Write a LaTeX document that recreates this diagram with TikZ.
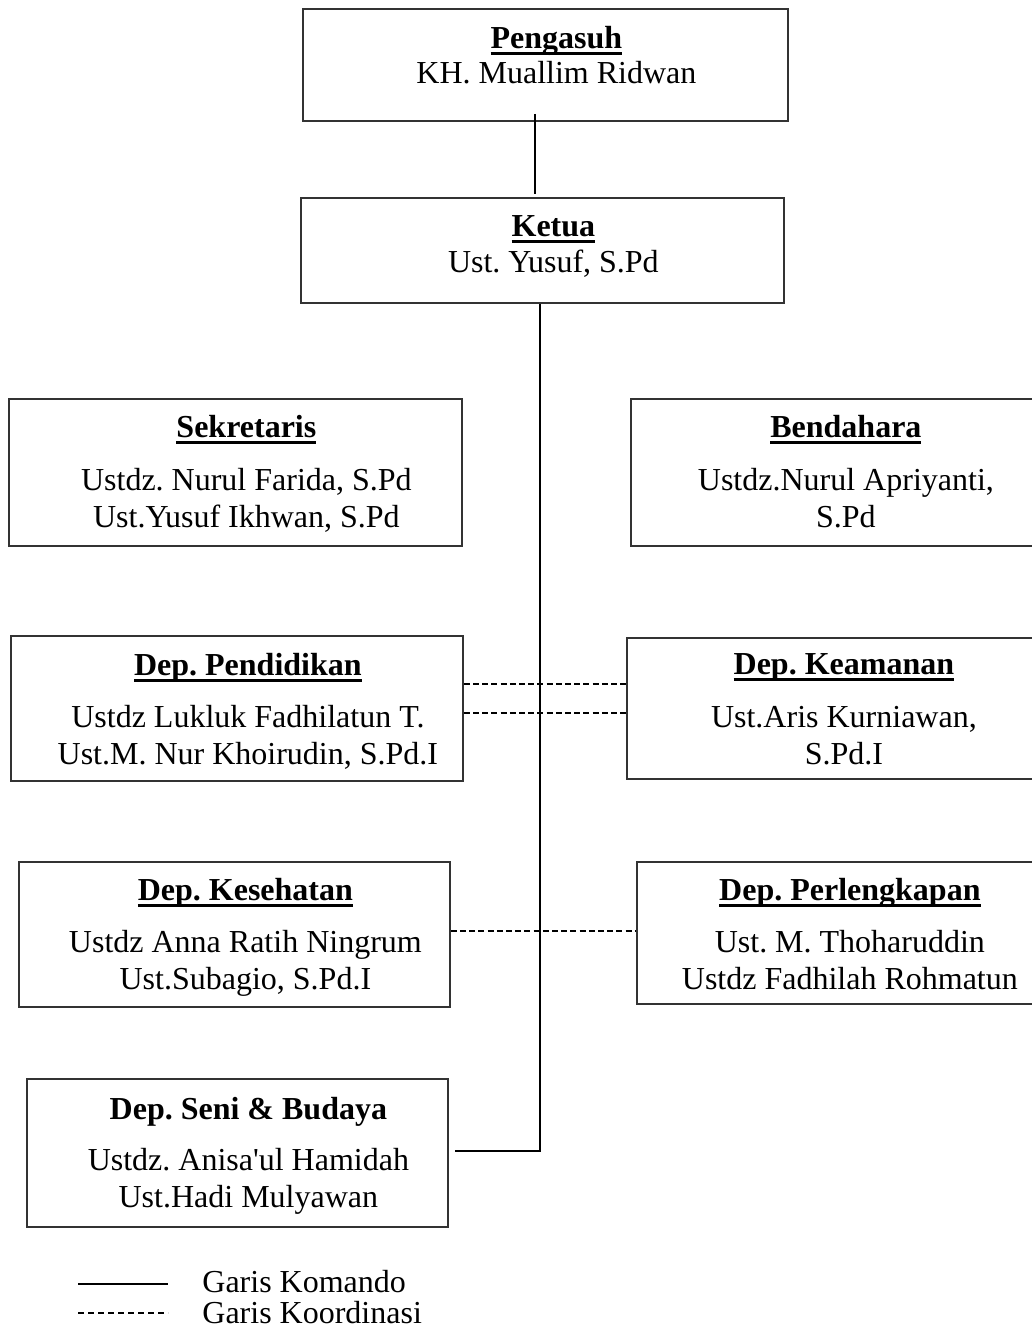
\documentclass[tikz,border=0pt]{standalone}
\usepackage{fontspec}
\setmainfont{Liberation Serif}
\usetikzlibrary{calc}
\frenchspacing

% bold title with a heavy underline
\newcommand{\judul}[1]{\setbox0\hbox{\bfseries #1}\rlap{\rule[-3.4pt]{\wd0}{1.7pt}}\box0}

\tikzset{
  kotak/.style={rectangle, draw=black!80, line width=0.9pt, inner sep=0pt, anchor=north west},
  teks/.style={anchor=north, align=center, inner sep=0pt, font=\fontsize{16pt}{18.5pt}\selectfont},
  komando/.style={line width=0.75pt},
  koordinasi/.style={line width=0.75pt, dash pattern=on 3pt off 1.6pt}
}

\begin{document}
\begin{tikzpicture}[x=0.5pt, y=-0.5pt]
            \useasboundingbox (0,0) rectangle (1032,1333);

            % Boxes
            \node (pengasuh) [kotak, minimum width=242.5pt, minimum height=56pt] at (302,8) {};
            \node (ketua) [kotak, minimum width=241.5pt, minimum height=52.5pt] at (300,197) {};
            \node (sekretaris) [kotak, minimum width=226.5pt, minimum height=73.5pt] at (8,398) {};
            \node (bendahara) [kotak, minimum width=204pt, minimum height=73.5pt] at (630,398) {};
            \node (pendidikan) [kotak, minimum width=226pt, minimum height=72.5pt] at (10,635) {};
            \node (keamanan) [kotak, minimum width=206pt, minimum height=70.5pt] at (626,637) {};
            \node (kesehatan) [kotak, minimum width=215.5pt, minimum height=72.5pt] at (18,861) {};
            \node (perlengkapan) [kotak, minimum width=202pt, minimum height=71pt] at (636,861) {};
            \node (seni) [kotak, minimum width=210.5pt, minimum height=74pt] at (26,1078) {};

            % Texts
            \node (pengasuhTeks) [teks] at ($(pengasuh.north)+(11,18)$) {\judul{Pengasuh}\\[-1pt] KH. Muallim Ridwan};
            \node (ketuaTeks) [teks] at ($(ketua.north)+(11,18)$) {\judul{Ketua}\\[-0.5pt] Ust. Yusuf, S.Pd};
            \node (sekretarisTeks) [teks] at ($(sekretaris.north)+(11,17)$) {\judul{Sekretaris}\\[8pt] Ustdz. Nurul Farida, S.Pd\\ Ust.Yusuf Ikhwan, S.Pd};
            \node (bendaharaTeks) [teks] at ($(bendahara.north)+(11,17)$) {\judul{Bendahara}\\[8pt] Ustdz.Nurul Apriyanti,\\ S.Pd};
            \node (pendidikanTeks) [teks] at ($(pendidikan.north)+(11,18)$) {\judul{Dep. Pendidikan}\\[7.5pt] Ustdz Lukluk Fadhilatun T.\\ Ust.M. Nur Khoirudin, S.Pd.I};
            \node (keamananTeks) [teks] at ($(keamanan.north)+(11,16)$) {\judul{Dep. Keamanan}\\[8pt] Ust.Aris Kurniawan,\\ S.Pd.I};
            \node (kesehatanTeks) [teks] at ($(kesehatan.north)+(11,17)$) {\judul{Dep. Kesehatan}\\[7.5pt] Ustdz Anna Ratih Ningrum\\ Ust.Subagio, S.Pd.I};
            \node (perlengkapanTeks) [teks] at ($(perlengkapan.north)+(11,17)$) {\judul{Dep. Perlengkapan}\\[7.5pt] Ust. M. Thoharuddin\\ Ustdz Fadhilah Rohmatun};
            \node (seniTeks) [teks] at ($(seni.north)+(11,19)$) {\textbf{Dep. Seni \& Budaya}\\[7pt] Ustdz. Anisa\textquotesingle ul Hamidah\\ Ust.Hadi Mulyawan};

            % Lines
            \draw[komando] ($(pengasuh.south)+(-10.5,-8)$) -- ($(ketua.north)+(-7.5,-3)$);
            \draw[komando] ($(ketua.south)+(-2.5,0)$) |- ($(seni.east)+(6,-2)$);

            \coordinate (p1) at ($(pendidikan.east)+(0,-24.5)$);
            \coordinate (p2) at ($(pendidikan.east)+(0,4.5)$);
            \coordinate (k1) at ($(kesehatan.east)+(0,-3.5)$);
            \draw[koordinasi] (p1) -- (p1 -| keamanan.west);
            \draw[koordinasi] (p2) -- (p2 -| keamanan.west);
            \draw[koordinasi] (k1) -- (k1 -| perlengkapan.west);

            % Legend
            \node (garisKomando) [teks, anchor=base west] at (202,1292) {Garis Komando};
            \node (garisKoordinasi) [teks, anchor=base west] at (202,1323) {Garis Koordinasi};
            \draw[komando] ($(garisKomando.base west)+(-124,-8)$) -- ($(garisKomando.base west)+(-34,-8)$);
            \draw[koordinasi, line width=0.6pt, dash pattern=on 3pt off 2pt] ($(garisKoordinasi.base west)+(-124,-10)$) -- ($(garisKoordinasi.base west)+(-34,-10)$);
\end{tikzpicture}
\end{document}
